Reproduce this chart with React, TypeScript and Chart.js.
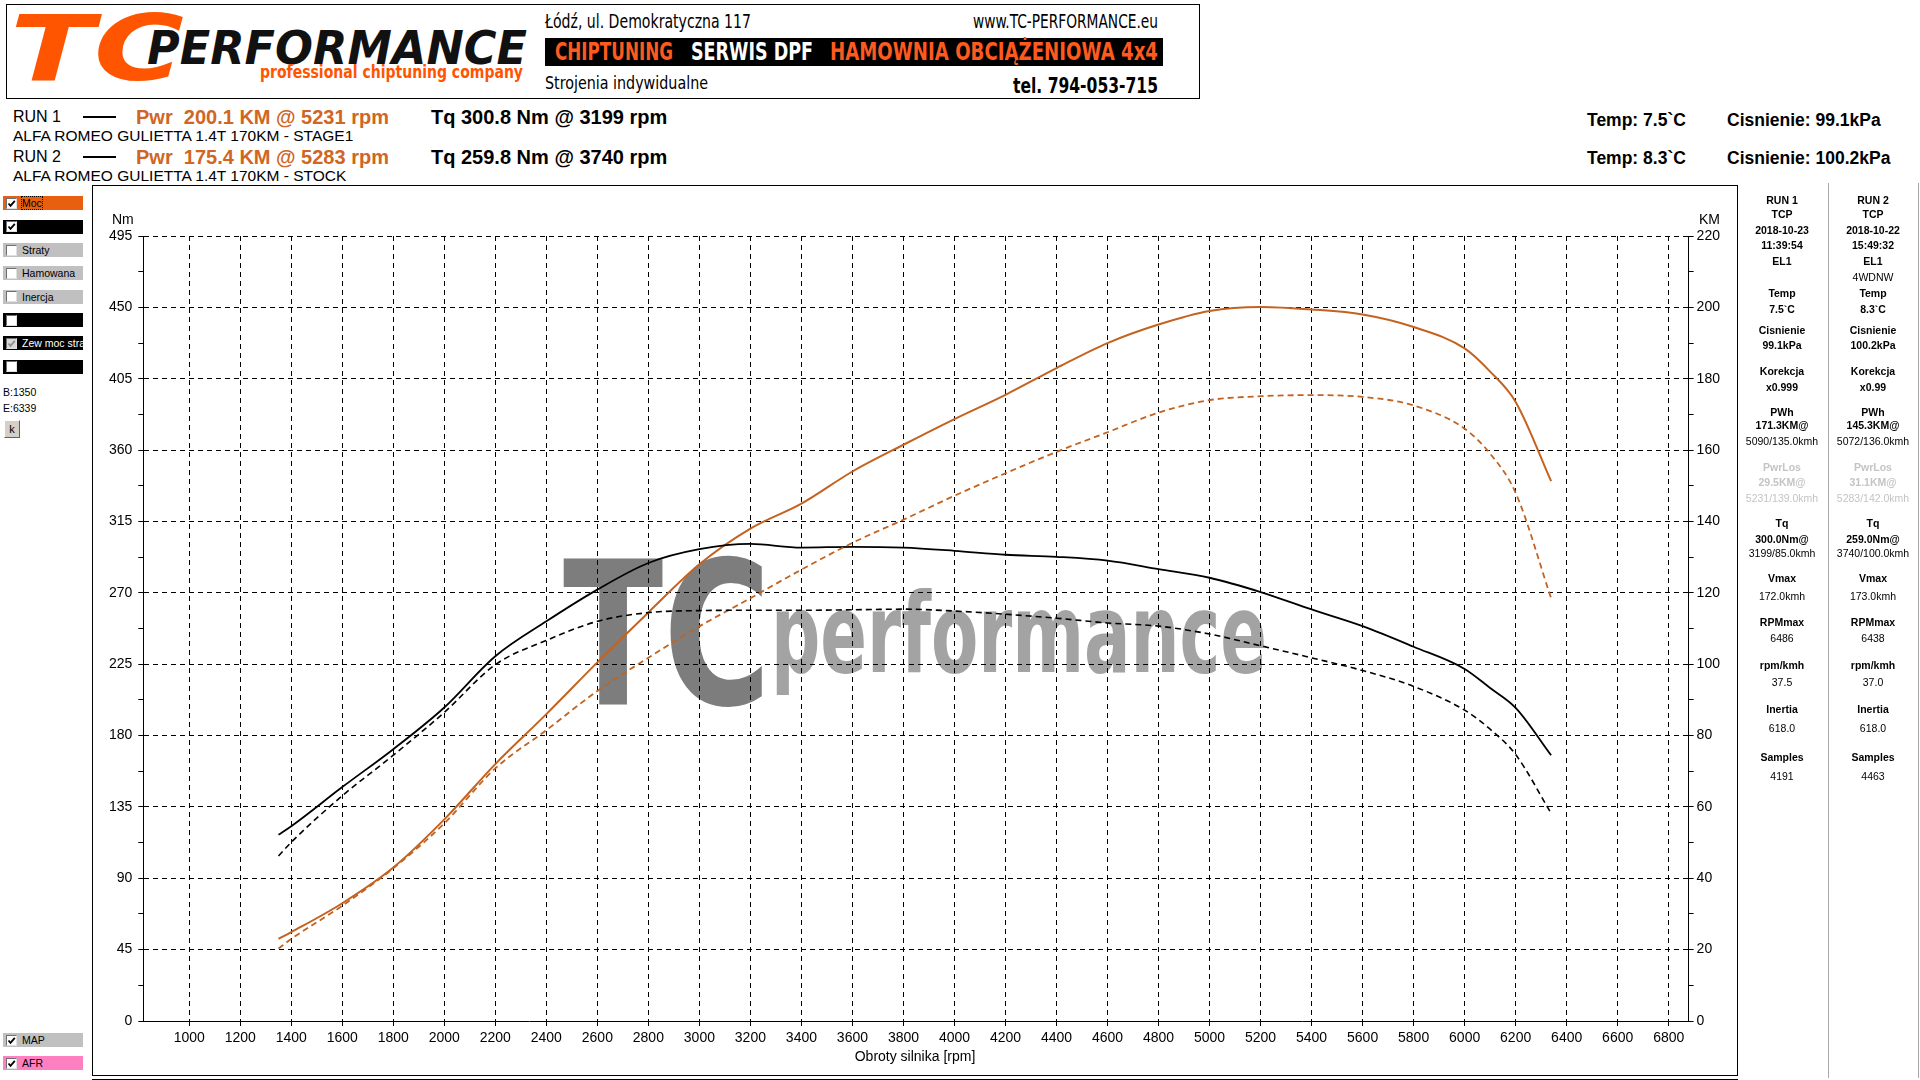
import React, { useEffect, useRef } from 'react';
import { Chart, registerables } from 'chart.js';
Chart.register(...registerables);

// ---------- data ----------
const RPM = [1350, 1400, 1600, 1800, 2000, 2200, 2400, 2600, 2800, 3000, 3200, 3400, 3600, 3800, 4000, 4200, 4400, 4600, 4800, 5000, 5200, 5400, 5600, 5800, 6000, 6100, 6200, 6339];
const TQ_RUN1 = [117.4, 122.8, 147.5, 171.4, 197.7, 230, 252, 272, 288.8, 297.5, 300.8, 298.5, 299, 298.5, 296.5, 294, 292.7, 290.3, 285, 279.5, 270.5, 259.5, 249, 236, 222, 210, 197.5, 167.6];
const TQ_RUN2 = [104, 112.7, 142, 167.6, 194.6, 224.7, 240, 252, 257.5, 258.8, 259, 259, 259.3, 259.7, 258.5, 256.5, 254, 251, 249, 244, 236.6, 229, 221, 211, 196, 184, 168, 131];
const PWR_RUN1 = [23, 24.9, 33, 43, 56.5, 72, 86, 100.5, 114.5, 128, 138, 145, 154, 161.5, 168.7, 175.5, 183, 190, 195.2, 199, 200.1, 199.4, 198, 194.5, 188.5, 182, 173.5, 151.3];
const PWR_RUN2 = [20.3, 23, 32.3, 42.8, 55.4, 70.8, 81.5, 92.5, 101.8, 110.6, 118.5, 126.5, 134, 140.5, 147.2, 153.5, 159.5, 165, 170.5, 174, 175.1, 175.4, 174.9, 172.5, 166, 159, 148, 118.5];

const X_TICKS = [1000, 1200, 1400, 1600, 1800, 2000, 2200, 2400, 2600, 2800, 3000, 3200, 3400, 3600, 3800, 4000, 4200, 4400, 4600, 4800, 5000, 5200, 5400, 5600, 5800, 6000, 6200, 6400, 6600, 6800];
const NM_TICKS = [0, 45, 90, 135, 180, 225, 270, 315, 360, 405, 450, 495];
const KM_TICKS = [0, 20, 40, 60, 80, 100, 120, 140, 160, 180, 200, 220];

const RUN_ROWS = [
  { run: 'RUN 1', pwr: 'Pwr  200.1 KM @ 5231 rpm', tq: 'Tq 300.8 Nm @ 3199 rpm', car: 'ALFA ROMEO GULIETTA 1.4T 170KM - STAGE1', temp: 'Temp: 7.5`C', pres: 'Cisnienie: 99.1kPa' },
  { run: 'RUN 2', pwr: 'Pwr  175.4 KM @ 5283 rpm', tq: 'Tq 259.8 Nm @ 3740 rpm', car: 'ALFA ROMEO GULIETTA 1.4T 170KM - STOCK', temp: 'Temp: 8.3`C', pres: 'Cisnienie: 100.2kPa' },
];

const PANEL_RUN1: [string, string][] = [
  ['RUN 1', 'b'], ['TCP', 'b'], ['2018-10-23', 'b'], ['11:39:54', 'b'], ['EL1', 'b'], ['', 'n'],
  ['Temp', 'b'], ['7.5`C', 'b'], ['Cisnienie', 'b'], ['99.1kPa', 'b'], ['Korekcja', 'b'], ['x0.999', 'b'],
  ['PWh', 'b'], ['171.3KM@', 'b'], ['5090/135.0kmh', 'n'], ['PwrLos', 'gb'], ['29.5KM@', 'gb'], ['5231/139.0kmh', 'gn'],
  ['Tq', 'b'], ['300.0Nm@', 'b'], ['3199/85.0kmh', 'n'], ['Vmax', 'b'], ['172.0kmh', 'n'], ['RPMmax', 'b'], ['6486', 'n'],
  ['rpm/kmh', 'b'], ['37.5', 'n'], ['Inertia', 'b'], ['618.0', 'n'], ['Samples', 'b'], ['4191', 'n'],
];
const PANEL_RUN2: [string, string][] = [
  ['RUN 2', 'b'], ['TCP', 'b'], ['2018-10-22', 'b'], ['15:49:32', 'b'], ['EL1', 'b'], ['4WDNW', 'n'],
  ['Temp', 'b'], ['8.3`C', 'b'], ['Cisnienie', 'b'], ['100.2kPa', 'b'], ['Korekcja', 'b'], ['x0.99', 'b'],
  ['PWh', 'b'], ['145.3KM@', 'b'], ['5072/136.0kmh', 'n'], ['PwrLos', 'gb'], ['31.1KM@', 'gb'], ['5283/142.0kmh', 'gn'],
  ['Tq', 'b'], ['259.0Nm@', 'b'], ['3740/100.0kmh', 'n'], ['Vmax', 'b'], ['173.0kmh', 'n'], ['RPMmax', 'b'], ['6438', 'n'],
  ['rpm/kmh', 'b'], ['37.0', 'n'], ['Inertia', 'b'], ['618.0', 'n'], ['Samples', 'b'], ['4463', 'n'],
];

const LEFT_CHECKS = [
  { label: 'Moc', bg: '#e8600f', color: '#000', checked: true, focus: true },
  { label: '', bg: '#000', color: '#fff', checked: true },
  { label: 'Straty', bg: '#c0c0c0', color: '#000', checked: false },
  { label: 'Hamowana', bg: '#c0c0c0', color: '#000', checked: false },
  { label: 'Inercja', bg: '#c0c0c0', color: '#000', checked: false },
  { label: '', bg: '#000', color: '#fff', checked: false },
  { label: 'Zew moc straty', bg: '#000', color: '#fff', checked: true, disabled: true },
  { label: '', bg: '#000', color: '#fff', checked: false },
];
const BOTTOM_CHECKS = [
  { label: 'MAP', bg: '#c0c0c0', color: '#000', checked: true },
  { label: 'AFR', bg: '#ff80c0', color: '#000', checked: true },
];

// ---------- layout / style ----------
const FONT = '"Liberation Sans", Arial, sans-serif';
const ORANGE = '#c4621f';
const PANEL_Y = [200, 214.5, 230, 245.5, 261, 277, 293.5, 309, 330, 345, 371, 387, 412, 425.5, 441.5, 467.5, 482, 498.5, 523, 539, 553.5, 578, 596, 622, 638, 665, 682, 709, 728.5, 757, 776];
const LEFT_Y = [203, 226.5, 250, 273, 296.5, 320, 343, 366.5];
const BOTTOM_Y = [1040, 1063];

const T = ({ x, y, size, children, style }: any) => (
  <div style={{ position: 'absolute', left: x, top: y - size * 0.6, fontSize: size, lineHeight: `${size * 1.2}px`, whiteSpace: 'pre', ...style }}>{children}</div>
);

const CheckRow = ({ y, item }: any) => (
  <div style={{ position: 'absolute', left: 3, top: y - 7, width: 80, height: 14, background: item.bg, overflow: 'hidden' }}>
    <div style={{ position: 'absolute', left: 3, top: 1.5, width: 11, height: 11, boxSizing: 'border-box', background: item.disabled ? '#d8d8d8' : '#fff', borderTop: '1px solid #707070', borderLeft: '1px solid #707070', borderRight: '1px solid #e0e0e0', borderBottom: '1px solid #e0e0e0' }}>
      {item.checked && (
        <svg width="9" height="9" style={{ position: 'absolute', left: 0, top: 0 }}>
          <polyline points="1.5,4.5 3.5,6.8 7.8,1.8" fill="none" stroke={item.disabled ? '#909090' : '#000'} strokeWidth="1.8" />
        </svg>
      )}
    </div>
    {item.label && (
      <div style={{ position: 'absolute', left: 18, top: 0, fontSize: 10.5, lineHeight: '14px', color: item.color, whiteSpace: 'nowrap', outline: item.focus ? '1px dotted #000' : 'none', outlineOffset: -1, padding: '0 1px' }}>{item.label}</div>
    )}
  </div>
);

function DynoChart() {
  const ref = useRef<HTMLCanvasElement | null>(null);
  useEffect(() => {
    if (!ref.current) return;
    const pts = (vals: number[]) => RPM.map((r, i) => ({ x: r, y: vals[i] }));
    const nmMinor = Array.from({ length: 23 }, (_, i) => i * 22.5);
    const kmMinor = Array.from({ length: 23 }, (_, i) => i * 10);
    const tickFont = { family: FONT, size: 14 };
    const chart = new Chart(ref.current, {
      type: 'line',
      data: {
        datasets: [
          { label: 'Tq RUN 2', data: pts(TQ_RUN2), yAxisID: 'y', borderColor: '#000', borderWidth: 1.6, borderDash: [6, 4], pointRadius: 0, cubicInterpolationMode: 'monotone', fill: false },
          { label: 'Pwr RUN 2', data: pts(PWR_RUN2), yAxisID: 'y2', borderColor: ORANGE, borderWidth: 1.8, borderDash: [6, 4], pointRadius: 0, cubicInterpolationMode: 'monotone', fill: false },
          { label: 'Tq RUN 1', data: pts(TQ_RUN1), yAxisID: 'y', borderColor: '#000', borderWidth: 1.8, pointRadius: 0, cubicInterpolationMode: 'monotone', fill: false },
          { label: 'Pwr RUN 1', data: pts(PWR_RUN1), yAxisID: 'y2', borderColor: ORANGE, borderWidth: 2, pointRadius: 0, cubicInterpolationMode: 'monotone', fill: false },
        ],
      },
      options: {
        animation: false,
        responsive: false,
        devicePixelRatio: 1,
        layout: { padding: { top: 50, left: 0, right: 0, bottom: 0 } },
        plugins: { legend: { display: false }, tooltip: { enabled: false } },
        scales: {
          x: {
            type: 'linear', min: 820, max: 6878,
            afterBuildTicks: (s: any) => { s.ticks = X_TICKS.map((v) => ({ value: v })); },
            afterFit: (s: any) => { s.height = 53; },
            ticks: { autoSkip: false, maxRotation: 0, minRotation: 0, padding: 4, color: '#000', font: tickFont, callback: (v: any) => String(v) },
            grid: { color: '#000', lineWidth: 1, tickLength: 5, tickColor: '#000' },
            border: { color: '#000', width: 1, dash: [5, 4] },
          },
          y: {
            type: 'linear', position: 'left', min: 0, max: 495,
            afterBuildTicks: (s: any) => { s.ticks = nmMinor.map((v) => ({ value: v })); },
            afterFit: (s: any) => { s.width = 50.3; },
            ticks: { padding: 6, color: '#000', font: tickFont, callback: (v: any) => (NM_TICKS.includes(v) ? String(v) : '') },
            grid: {
              color: (c: any) => (c.tick && NM_TICKS.includes(c.tick.value) && c.tick.value !== 0 ? '#000' : 'rgba(0,0,0,0)'),
              lineWidth: 1, tickLength: 5, tickColor: '#000',
            },
            border: { color: '#000', width: 1, dash: [5, 4] },
          },
          y2: {
            type: 'linear', position: 'right', min: 0, max: 220,
            afterBuildTicks: (s: any) => { s.ticks = kmMinor.map((v) => ({ value: v })); },
            afterFit: (s: any) => { s.width = 47.4; },
            ticks: { padding: 3, color: '#000', font: tickFont, callback: (v: any) => (KM_TICKS.includes(v) ? String(v) : '') },
            grid: { drawOnChartArea: false, tickLength: 5, tickColor: '#000' },
            border: { color: '#000', width: 1 },
          },
        },
      },
    } as any);
    return () => chart.destroy();
  }, []);
  return <canvas ref={ref} width={1643} height={888} style={{ position: 'absolute', left: 93, top: 186, width: 1643, height: 888 }} />;
}

const styleFor = (s: string) => ({
  fontWeight: s === 'b' || s === 'gb' ? 700 : 400,
  color: s === 'gb' || s === 'gn' ? '#c4c4c4' : '#000',
});

export default function App() {
  const cond = '"DejaVu Sans Condensed", "DejaVu Sans", sans-serif';
  return (
    <div style={{ position: 'absolute', left: 0, top: 0, width: 1920, height: 1080, overflow: 'hidden', background: '#fff', fontFamily: FONT, color: '#000' }}>
      {/* header */}
      <svg width={1194} height={95} style={{ position: 'absolute', left: 6, top: 4 }}>
        <rect x={0.5} y={0.5} width={1193} height={94} fill="#fff" stroke="#000" strokeWidth={1} />
        <text x={4} y={76} fontSize={90} fontWeight={900} fontStyle="italic" fill="#ff5400" fontFamily={cond} textLength={174} lengthAdjust="spacingAndGlyphs">TC</text>
        <text x={141} y={60} fontSize={46} fontWeight={700} fontStyle="italic" fill="#111" stroke="#fff" strokeWidth={2} paintOrder="stroke" fontFamily={cond} textLength={380} lengthAdjust="spacingAndGlyphs">PERFORMANCE</text>
        <text x={254} y={74} fontSize={18} fontWeight={700} fill="#ff5400" fontFamily={cond} textLength={263} lengthAdjust="spacingAndGlyphs">professional chiptuning company</text>
        <text x={539} y={24} fontSize={19} fill="#000" fontFamily={cond} textLength={206} lengthAdjust="spacingAndGlyphs">Łódź, ul. Demokratyczna 117</text>
        <text x={967} y={24} fontSize={19} fill="#000" fontFamily={cond} textLength={185} lengthAdjust="spacingAndGlyphs">www.TC-PERFORMANCE.eu</text>
        <rect x={539} y={34} width={618} height={28} fill="#000" />
        <text x={549} y={56} fontSize={24} fontWeight={700} fill="#ff5a1e" fontFamily={cond} textLength={118} lengthAdjust="spacingAndGlyphs">CHIPTUNING</text>
        <text x={685} y={56} fontSize={24} fontWeight={700} fill="#fff" fontFamily={cond} textLength={122} lengthAdjust="spacingAndGlyphs">SERWIS DPF</text>
        <text x={824} y={56} fontSize={24} fontWeight={700} fill="#ff5a1e" fontFamily={cond} textLength={328} lengthAdjust="spacingAndGlyphs">HAMOWNIA OBCIĄŻENIOWA 4x4</text>
        <text x={539} y={85} fontSize={18} fill="#000" fontFamily={cond} textLength={163} lengthAdjust="spacingAndGlyphs">Strojenia indywidualne</text>
        <text x={1007} y={89} fontSize={22} fontWeight={700} fill="#000" fontFamily={cond} textLength={145} lengthAdjust="spacingAndGlyphs">tel. 794-053-715</text>
      </svg>

      {/* run info rows */}
      {RUN_ROWS.map((r, i) => {
        const y = i === 0 ? 117 : 157;
        const ty = i === 0 ? 120 : 158;
        return (
          <React.Fragment key={i}>
            <T x={13} y={y} size={16}>{r.run}</T>
            <div style={{ position: 'absolute', left: 83, top: y - 1, width: 33, height: 2, background: '#000' }} />
            <T x={136} y={y} size={20} style={{ fontWeight: 700, color: '#d0661f' }}>{r.pwr}</T>
            <T x={431} y={y} size={20} style={{ fontWeight: 700 }}>{r.tq}</T>
            <T x={13} y={y + 19} size={15.5}>{r.car}</T>
            <T x={1587} y={ty} size={17.5} style={{ fontWeight: 700 }}>{r.temp}</T>
            <T x={1727} y={ty} size={17.5} style={{ fontWeight: 700 }}>{r.pres}</T>
          </React.Fragment>
        );
      })}

      {/* left control panel */}
      {LEFT_CHECKS.map((c, i) => <CheckRow key={i} y={LEFT_Y[i]} item={c} />)}
      <T x={3} y={392} size={10.5}>B:1350</T>
      <T x={3} y={408} size={10.5}>E:6339</T>
      <div style={{ position: 'absolute', left: 4, top: 420, width: 16, height: 18, boxSizing: 'border-box', background: '#d4d0c8', borderTop: '1px solid #fff', borderLeft: '1px solid #fff', borderRight: '1px solid #606060', borderBottom: '1px solid #606060', fontSize: 11, lineHeight: '16px', textAlign: 'center' }}>k</div>
      {BOTTOM_CHECKS.map((c, i) => <CheckRow key={'b' + i} y={BOTTOM_Y[i]} item={c} />)}

      {/* chart frame */}
      <div style={{ position: 'absolute', left: 92, top: 185, width: 1646, height: 891, boxSizing: 'border-box', border: '1px solid #000' }} />
      <div style={{ position: 'absolute', left: 92, top: 1079, width: 1646, height: 1, background: '#000' }} />

      {/* watermark */}
      <svg width={760} height={190} style={{ position: 'absolute', left: 540, top: 540 }}>
        <text x={23} y={164} fontSize={200} fontWeight={900} fill="#7d7d7d" fontFamily={cond} textLength={208} lengthAdjust="spacingAndGlyphs">TC</text>
        <text x={231} y={132} fontSize={110} fontWeight={700} fill="#a3a3a3" fontFamily={cond} textLength={496} lengthAdjust="spacingAndGlyphs">performance</text>
      </svg>

      <DynoChart />

      {/* axis titles */}
      <T x={112} y={219} size={14}>Nm</T>
      <T x={1699} y={219} size={14}>KM</T>
      <div style={{ position: 'absolute', left: 815, top: 1056 - 8.4, width: 200, textAlign: 'center', fontSize: 14, lineHeight: '16.8px' }}>Obroty silnika [rpm]</div>

      {/* right info panel */}
      <div style={{ position: 'absolute', left: 1828, top: 183, width: 1, height: 895, background: '#a8a8a8' }} />
      <div style={{ position: 'absolute', left: 1918, top: 183, width: 1, height: 895, background: '#a8a8a8' }} />
      {[PANEL_RUN1, PANEL_RUN2].map((col, ci) =>
        col.map(([txt, s], ri) => (
          <div key={ci + '-' + ri} style={{ position: 'absolute', left: (ci === 0 ? 1782 : 1873) - 45, top: PANEL_Y[ri] - 6.3, width: 90, textAlign: 'center', fontSize: 10.5, lineHeight: '12.6px', whiteSpace: 'nowrap', ...styleFor(s) }}>{txt}</div>
        ))
      )}
    </div>
  );
}
